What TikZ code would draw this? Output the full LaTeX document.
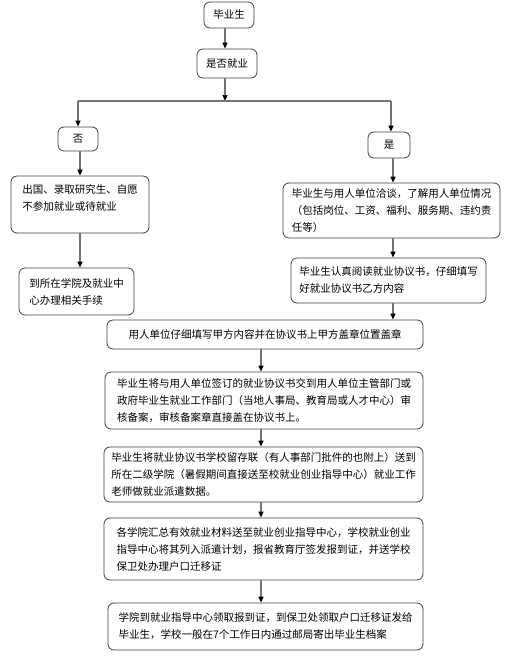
\documentclass[tikz,border=0pt]{standalone}
\usepackage{fontspec}
\setmainfont{Noto Sans CJK SC}
\usetikzlibrary{arrows.meta}
\begin{document}
\begin{tikzpicture}[x=1pt,y=-1pt,
  box/.style={draw=black!75,line width=0.8pt,rounded corners=6pt,align=left,
    inner xsep=0pt,inner ysep=0pt,font=\fontsize{10.5}{17}\selectfont},
  conn/.style={draw=black!55,line width=1.3pt},
  arr/.style={conn,-{Triangle[length=6pt,width=5pt,color=black]}}]
\useasboundingbox (0,0) rectangle (512,656);
\fill[white] (0,0) rectangle (512,656);
\node[box,minimum width=50pt,minimum height=26pt] (a) at (229,15) {毕业生};
\node[box,minimum width=60pt,minimum height=29pt] (b) at (227,63.5) {是否就业};
\node[box,minimum width=40pt,minimum height=24pt] (c) at (78,139) {否};
\node[box,minimum width=42pt,minimum height=26pt] (d) at (389,145) {是};
\node[box,minimum width=138pt,minimum height=57pt] (e) at (80,204.5) {出国、录取研究生、自愿\\不参加就业或待就业\\[-4pt]};
\node[box,minimum width=115pt,minimum height=47pt] (f) at (76.5,291.5) {到所在学院及就业中\\心办理相关手续};
\node[box,minimum width=217pt,minimum height=55pt] (g) at (391.5,210.5) {毕业生与用人单位洽谈，了解用人单位情况\\（包括岗位、工资、福利、服务期、违约责\\任等）};
\node[box,minimum width=195pt,minimum height=45pt] (h) at (388.5,280.5) {毕业生认真阅读就业协议书，仔细填写\\好就业协议书乙方内容};
\node[box,minimum width=316pt,minimum height=29pt] (i) at (265,334.5) {用人单位仔细填写甲方内容并在协议书上甲方盖章位置盖章};
\node[box,minimum width=318pt,minimum height=57pt] (j) at (264,400.5) {毕业生将与用人单位签订的就业协议书交到用人单位主管部门或\\政府毕业生就业工作部门（当地人事局、教育局或人才中心）审\\核备案，审核备案章直接盖在协议书上。};
\node[box,minimum width=319pt,minimum height=55pt] (k) at (263.5,474.5) {毕业生将就业协议书学校留存联（有人事部门批件的也附上）送到\\所在二级学院（暑假期间直接送至校就业创业指导中心）就业工作\\老师做就业派遣数据。};
\node[box,minimum width=319pt,minimum height=62pt] (l) at (263.5,549) {各学院汇总有效就业材料送至就业创业指导中心，学校就业创业\\指导中心将其列入派遣计划，报省教育厅签发报到证，并送学校\\保卫处办理户口迁移证};
\node[box,minimum width=315pt,minimum height=47pt] (m) at (265.5,626.5) {学院到就业指导中心领取报到证，到保卫处领取户口迁移证发给\\毕业生，学校一般在7个工作日内通过邮局寄出毕业生档案};
\coordinate (jl) at (78,101);
\coordinate (jr) at (391,101);
\coordinate (jm) at (225,101);
\draw[arr] (a.south -| jm) -- (b.north -| jm);
\draw[arr] (b.south -| jm) -- (jm);
\draw[conn] (jl) -- (jr);
\draw[arr] (jl) -- (c.north -| jl);
\draw[arr] (jr) -- (d.north -| jr);
\coordinate (xl) at (80,0);
\draw[arr] (c.south -| xl) -- (e.north -| xl);
\draw[arr] (e.south -| xl) -- (f.north -| xl);
\coordinate (xr) at (393,0);
\draw[arr] (d.south -| xr) -- (g.north -| xr);
\draw[arr] (g.south -| xr) -- (h.north -| xr);
\draw[arr] (h.south -| xr) -- (i.north -| xr);
\coordinate (xm) at (261,0);
\draw[arr] (i.south -| xm) -- (j.north -| xm);
\draw[arr] (j.south -| xm) -- (k.north -| xm);
\draw[arr] (k.south -| xm) -- (l.north -| xm);
\draw[arr] (l.south -| xm) -- (m.north -| xm);
\end{tikzpicture}
\end{document}
